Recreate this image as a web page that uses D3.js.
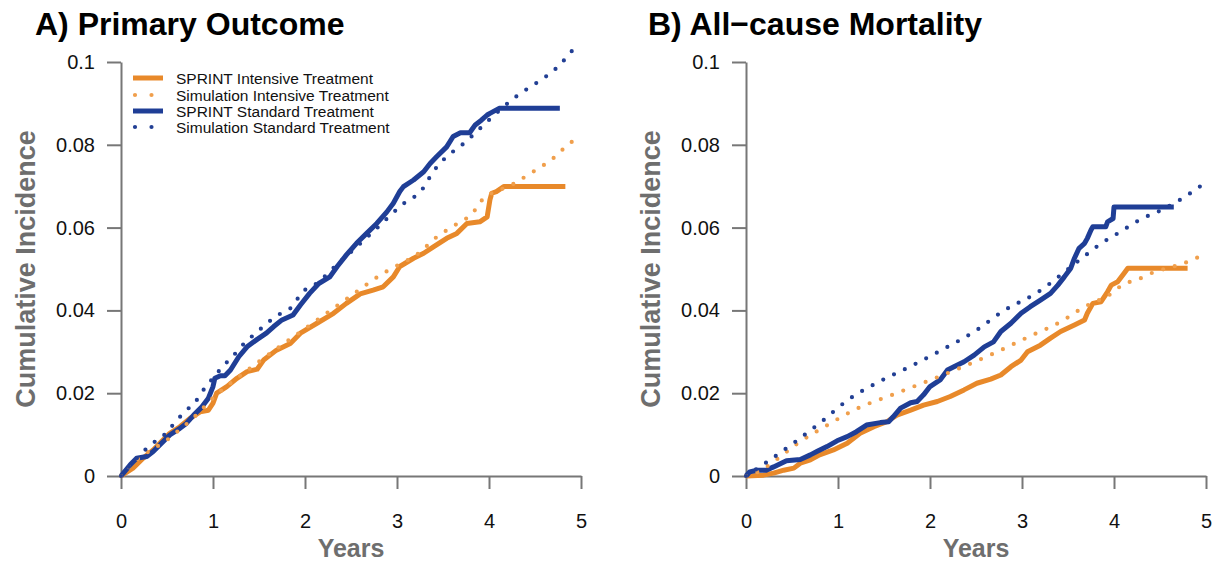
<!DOCTYPE html>
<meta charset="utf-8">
<head>
  <title>SPRINT vs simulation</title>
</head>
<style>
body { margin: 0; background: #fff; font-family: "Liberation Sans", Arial, Helvetica, sans-serif; }
.axis path, .axis line { stroke: #777; stroke-width: 2; }
.axis text { font-size: 20px; fill: #111; font-family: "Liberation Sans", Arial, sans-serif; }
.ptitle { font-size: 32px; font-weight: bold; fill: #000; }
.atitle { font-weight: bold; fill: #6e6e6e; }
.leg { font-size: 15.5px; fill: #111; }
</style>
<body>
<svg id="chart" width="1217" height="563"></svg>
<script src="https://cdnjs.cloudflare.com/ajax/libs/d3/7.8.5/d3.min.js"></script>
<script>
// ticks
var xTicks = [0, 1, 2, 3, 4, 5];
var yTicks = [0, 0.02, 0.04, 0.06, 0.08, 0.1];
var yTickLabels = ["0", "0.02", "0.04", "0.06", "0.08", "0.1"];

var legendLabels = ["SPRINT Intensive Treatment", "Simulation Intensive Treatment",
                    "SPRINT Standard Treatment", "Simulation Standard Treatment"];

// A) primary outcome, SPRINT intensive (read from the picture)
var aIntT = [0, 0.13, 0.24, 0.35, 0.44, 0.53, 0.64, 0.75, 0.86, 0.95, 1.0, 1.04, 1.15, 1.26, 1.37, 1.48, 1.55, 1.69, 1.84, 1.95, 2.13, 2.31, 2.45, 2.6, 2.74, 2.85, 2.96, 3.03, 3.18, 3.29, 3.4, 3.54, 3.65, 3.76, 3.9, 3.98, 4.01, 4.03, 4.08, 4.16, 4.83];
var aIntV = [0, 0.0019, 0.0043, 0.0063, 0.0083, 0.0103, 0.0119, 0.0139, 0.0155, 0.0159, 0.0176, 0.02, 0.0216, 0.0236, 0.0252, 0.0258, 0.028, 0.0304, 0.032, 0.0345, 0.0369, 0.0393, 0.0417, 0.044, 0.0449, 0.0457, 0.0481, 0.0506, 0.0526, 0.0538, 0.0554, 0.0574, 0.0586, 0.061, 0.0614, 0.0626, 0.0667, 0.0683, 0.0687, 0.0699, 0.0699];
// A) simulation intensive
var aSimIntT = [0, 0.09, 0.18, 0.28, 0.5, 0.6, 0.79, 0.97, 1.45, 2.0, 2.5, 2.79, 2.9, 3.24, 3.43, 3.63, 3.84, 3.91, 4.26, 4.48, 4.69, 4.88, 5.0];
var aSimIntV = [0, 0.0021, 0.004, 0.0056, 0.0087, 0.0105, 0.0141, 0.0182, 0.0268, 0.0356, 0.0435, 0.0481, 0.0496, 0.0539, 0.0577, 0.0606, 0.064, 0.0663, 0.0705, 0.0735, 0.0766, 0.0804, 0.082];
// A) SPRINT standard
var aStdT = [0, 0.1, 0.17, 0.28, 0.35, 0.44, 0.53, 0.64, 0.71, 0.79, 0.88, 0.95, 1.0, 1.02, 1.08, 1.13, 1.19, 1.28, 1.37, 1.48, 1.58, 1.66, 1.75, 1.87, 1.95, 2.05, 2.15, 2.27, 2.35, 2.45, 2.56, 2.67, 2.78, 2.89, 2.96, 3.03, 3.07, 3.18, 3.29, 3.36, 3.43, 3.54, 3.61, 3.69, 3.79, 3.85, 3.92, 3.98, 4.01, 4.11, 4.77];
var aStdV = [0, 0.0027, 0.0043, 0.0047, 0.0059, 0.0079, 0.0099, 0.0115, 0.0127, 0.0147, 0.0167, 0.0188, 0.0216, 0.0236, 0.0242, 0.0242, 0.0256, 0.0288, 0.0312, 0.033, 0.0345, 0.0361, 0.0377, 0.0389, 0.0413, 0.0441, 0.0465, 0.0481, 0.0506, 0.0534, 0.0562, 0.0586, 0.061, 0.0638, 0.0659, 0.0687, 0.0699, 0.0715, 0.0735, 0.0755, 0.0771, 0.0795, 0.082, 0.0829, 0.0829, 0.0848, 0.086, 0.0872, 0.0876, 0.0888, 0.0888];
// A) simulation standard
var aSimStdT = [0, 0.35, 0.46, 0.54, 0.71, 0.8, 0.87, 0.95, 1.03, 1.11, 1.2, 1.28, 1.37, 1.46, 1.65, 1.76, 1.87, 1.94, 2.03, 2.15, 2.24, 2.5, 2.75, 3.06, 3.27, 3.4, 3.57, 3.68, 3.78, 4.0, 4.24, 4.34, 4.5, 4.75, 4.95];
var aSimStdV = [0, 0.008, 0.0097, 0.0117, 0.0159, 0.0176, 0.02, 0.0223, 0.0244, 0.0266, 0.0285, 0.0306, 0.0327, 0.0344, 0.038, 0.0396, 0.0411, 0.0435, 0.0455, 0.0468, 0.0488, 0.0541, 0.0592, 0.0656, 0.0691, 0.0737, 0.0777, 0.0795, 0.0814, 0.086, 0.0907, 0.0924, 0.0947, 0.0989, 0.104];

// B) all-cause mortality, SPRINT intensive
var bIntT = [0, 0.19, 0.3, 0.41, 0.52, 0.59, 0.7, 0.8, 0.95, 1.1, 1.24, 1.39, 1.53, 1.64, 1.79, 1.93, 2.08, 2.22, 2.37, 2.51, 2.66, 2.77, 2.88, 2.99, 3.06, 3.2, 3.31, 3.42, 3.57, 3.68, 3.71, 3.77, 3.86, 3.93, 3.97, 4.04, 4.11, 4.15, 4.8];
var bIntV = [0, 0.0002, 0.0007, 0.0014, 0.0019, 0.0031, 0.0039, 0.0051, 0.0063, 0.0079, 0.0103, 0.0119, 0.0131, 0.0147, 0.0159, 0.0171, 0.018, 0.0192, 0.0208, 0.0224, 0.0234, 0.0244, 0.0264, 0.028, 0.03, 0.0316, 0.0333, 0.0349, 0.0365, 0.0377, 0.0393, 0.0417, 0.0421, 0.0445, 0.0461, 0.0469, 0.049, 0.0502, 0.0502];
// B) simulation intensive
var bSimIntT = [0, 0.13, 0.34, 0.55, 0.87, 1.21, 1.59, 1.96, 2.35, 2.72, 3.08, 3.44, 3.65, 4.0, 4.11, 4.24, 4.36, 4.49, 4.76, 4.95];
var bSimIntV = [0, 0.001, 0.0041, 0.0077, 0.0121, 0.0163, 0.0196, 0.0228, 0.0263, 0.0299, 0.0337, 0.0375, 0.0405, 0.0445, 0.0465, 0.0472, 0.0486, 0.0496, 0.0514, 0.0532];
// B) SPRINT standard
var bStdT = [0, 0.04, 0.12, 0.22, 0.3, 0.44, 0.59, 0.7, 0.77, 0.88, 0.99, 1.1, 1.2, 1.31, 1.46, 1.55, 1.6, 1.68, 1.79, 1.86, 1.93, 2.0, 2.11, 2.19, 2.26, 2.37, 2.48, 2.59, 2.69, 2.77, 2.88, 2.99, 3.09, 3.2, 3.31, 3.39, 3.46, 3.53, 3.57, 3.62, 3.68, 3.71, 3.75, 3.77, 3.91, 3.93, 3.99, 4.0, 4.65];
var bStdV = [0, 0.001, 0.0014, 0.0014, 0.0022, 0.0037, 0.004, 0.0051, 0.0059, 0.0071, 0.0085, 0.0095, 0.0107, 0.0123, 0.0129, 0.0131, 0.0143, 0.0164, 0.0177, 0.018, 0.0196, 0.0216, 0.0232, 0.0256, 0.0264, 0.0276, 0.0292, 0.0312, 0.0324, 0.0349, 0.0369, 0.0393, 0.0409, 0.0425, 0.0441, 0.0461, 0.0481, 0.0502, 0.0526, 0.055, 0.0562, 0.0574, 0.0594, 0.0602, 0.0602, 0.0614, 0.0622, 0.065, 0.065];
// B) simulation standard
var bSimStdT = [0, 0.21, 0.52, 0.82, 1.11, 1.45, 1.8, 2.15, 2.49, 2.8, 3.15, 3.65, 3.85, 4.07, 4.29, 4.53, 4.76, 4.97];
var bSimStdV = [0, 0.0031, 0.008, 0.0131, 0.0184, 0.0228, 0.0266, 0.0307, 0.035, 0.0399, 0.0441, 0.0526, 0.056, 0.059, 0.062, 0.0644, 0.0673, 0.0705];

var orange = "#e8892a", orangeSim = "#f09f4c", blue = "#1f3e96", blueSim = "#223f94";

var svg = d3.select("#chart");

function pts(t, v) { return t.map(function(d, i) { return [d, v[i]]; }); }

function panel(opt) {
  var x = d3.scaleLinear().domain([0, 5]).range([opt.left, opt.left + 460]);
  var y = d3.scaleLinear().domain([0, 0.1]).range([476, 62]);

  svg.append("g").attr("class", "axis")
    .attr("transform", "translate(" + opt.left + ",0)")
    .call(d3.axisLeft(y).tickValues(yTicks).tickSize(14).tickSizeOuter(0).tickPadding(12)
      .tickFormat(function(d, i) { return yTickLabels[i]; }));
  svg.append("g").attr("class", "axis")
    .attr("transform", "translate(0,476)")
    .call(d3.axisBottom(x).tickValues(xTicks).tickSize(13).tickSizeOuter(0).tickPadding(25)
      .tickFormat(d3.format("d")));

  var line = d3.line().x(function(d) { return x(d[0]); }).y(function(d) { return y(d[1]); });

  svg.append("path").datum(pts(opt.intT, opt.intV)).attr("d", line)
    .attr("fill", "none").attr("stroke", orange).attr("stroke-width", 5).attr("stroke-linejoin", "round");
  svg.append("path").datum(pts(opt.stdT, opt.stdV)).attr("d", line)
    .attr("fill", "none").attr("stroke", blue).attr("stroke-width", 5).attr("stroke-linejoin", "round");
  var smooth = line.curve(d3.curveMonotoneX);
  svg.append("path").datum(pts(opt.simIntT, opt.simIntV)).attr("d", smooth)
    .attr("fill", "none").attr("stroke", orangeSim).attr("stroke-width", 4.2)
    .attr("stroke-linecap", "round").attr("stroke-dasharray", "0 12");
  svg.append("path").datum(pts(opt.simStdT, opt.simStdV)).attr("d", smooth)
    .attr("fill", "none").attr("stroke", blueSim).attr("stroke-width", 4.2)
    .attr("stroke-linecap", "round").attr("stroke-dasharray", "0 12");

  svg.append("text").attr("class", "ptitle").attr("x", opt.titleX).attr("y", 35).text(opt.title);
  svg.append("text").attr("class", "atitle").attr("font-size", 25)
    .attr("x", x(2.5)).attr("y", 557).attr("text-anchor", "middle").text("Years");
  svg.append("text").attr("class", "atitle").attr("font-size", 27)
    .attr("transform", "translate(" + (opt.left - 86.5) + "," + y(0.05) + ") rotate(-90)")
    .attr("text-anchor", "middle").text("Cumulative Incidence");
}

panel({ left: 121, titleX: 35, title: "A) Primary Outcome",
  intT: aIntT, intV: aIntV, simIntT: aSimIntT, simIntV: aSimIntV,
  stdT: aStdT, stdV: aStdV, simStdT: aSimStdT, simStdV: aSimStdV });
panel({ left: 746, titleX: 648, title: "B) All\u2212cause Mortality",
  intT: bIntT, intV: bIntV, simIntT: bSimIntT, simIntV: bSimIntV,
  stdT: bStdT, stdV: bStdV, simStdT: bSimStdT, simStdV: bSimStdV });

// legend (panel A only)
var legY = [78, 95, 111, 127];
var legCol = [orange, orangeSim, blue, blueSim];
var leg = svg.append("g");
legendLabels.forEach(function(lab, i) {
  var solid = i % 2 === 0;
  leg.append("line").attr("x1", solid ? 133 : 135).attr("x2", 163)
    .attr("y1", legY[i]).attr("y2", legY[i])
    .attr("stroke", legCol[i]).attr("stroke-width", solid ? 5 : 4.2)
    .attr("stroke-linecap", solid ? "butt" : "round")
    .attr("stroke-dasharray", solid ? null : "0 16.5");
  leg.append("text").attr("class", "leg").attr("x", 176).attr("y", legY[i] + 5.5).text(lab);
});
</script>
</body>
